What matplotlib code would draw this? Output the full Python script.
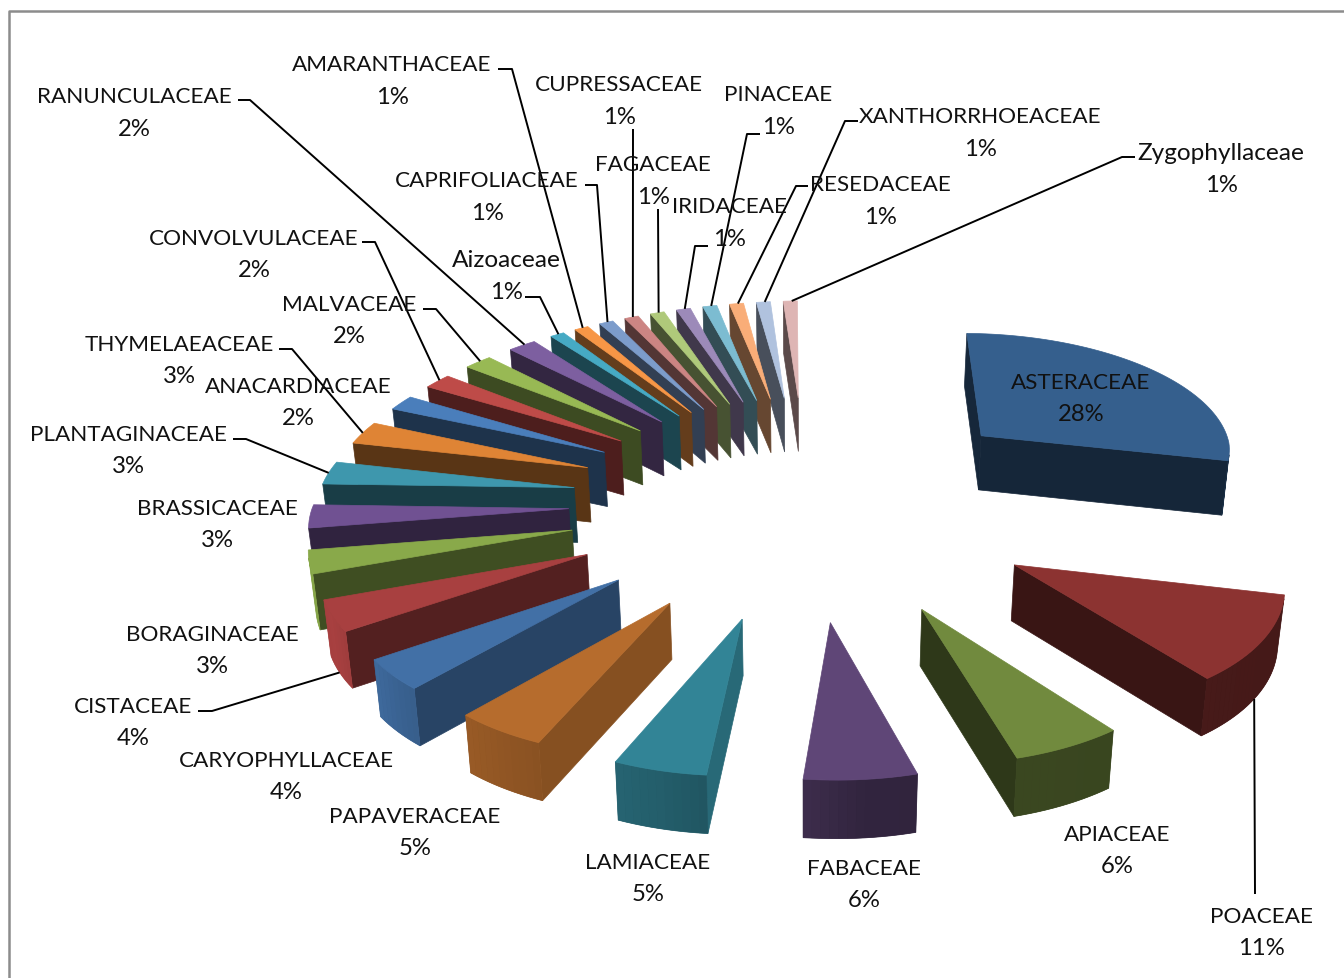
import numpy as np
import matplotlib
matplotlib.use('Agg')
from matplotlib import pyplot as plt

# plant families and their share of the species list, clockwise from 12 o'clock
families = ['ASTERACEAE', 'POACEAE', 'APIACEAE', 'FABACEAE', 'LAMIACEAE', 'PAPAVERACEAE',
            'CARYOPHYLLACEAE', 'CISTACEAE', 'BORAGINACEAE', 'BRASSICACEAE', 'PLANTAGINACEAE',
            'THYMELAEACEAE', 'ANACARDIACEAE', 'CONVOLVULACEAE', 'MALVACEAE', 'RANUNCULACEAE',
            'Aizoaceae', 'AMARANTHACEAE', 'CAPRIFOLIACEAE', 'CUPRESSACEAE', 'FAGACEAE',
            'IRIDACEAE', 'PINACEAE', 'RESEDACEAE', 'XANTHORRHOEACEAE', 'Zygophyllaceae']
percent = [28, 11, 6, 6, 5, 5, 4, 4, 3, 3, 3, 3, 2, 2, 2, 2, 1, 1, 1, 1, 1, 1, 1, 1, 1, 1]

colors = ['#355F8D', '#8C3331', '#718A3E', '#5F4677', '#328496', '#B66C2D',
          '#4270A6', '#A84040', '#89A94A', '#705192', '#3E97AD', '#DF8435',
          '#4A7EBB', '#BE4B48', '#98B954', '#7D5FA0', '#46AAC4', '#F79646',
          '#7C9CCB', '#CC8583', '#AFC97A', '#9C8AB9', '#7CBCD1', '#F9AD78',
          '#B0C2DE', '#DEB5B4']

# label centres (x, y of the name line)
label_pos = [(1081, 381), (1261, 915), (1117, 833), (864, 867), (648, 861), (415, 815),
             (286, 759), (133, 705), (212, 633), (217, 507), (128, 433),
             (179, 343), (298, 385), (254, 237), (349, 303), (134, 95),
             (506, 259), (392, 63), (487, 179), (619, 83), (653, 163),
             (729, 205), (778, 93), (880, 183), (980, 115), (1221, 151)]

# leader lines: start points and elbow per family index, ends come from the slice
leaders = {
    1: [(1255, 895)],
    7: [(198, 712), (212, 712)],
    10: [(233, 440), (246, 440)],
    11: [(279, 350), (292, 350)],
    13: [(362, 243), (375, 243)],
    14: [(423, 310), (436, 310)],
    15: [(238, 101), (250, 101)],
    16: [(525, 298), (540, 298)],
    17: [(498, 70), (512, 70)],
    18: [(585, 186), (597, 186)],
    19: [(633, 130)],
    20: [(658, 210)],
    21: [(708, 247), (695, 247)],
    22: [(760, 135), (747, 135)],
    23: [(808, 187), (796, 187)],
    24: [(858, 122), (845, 122)],
    25: [(1135, 158), (1122, 158)],
}
# these leaders land on the bottom edge of the rim
leader_on_rim = [1, 7]

# projection settings for the tilted pie
CX, CY = 806, 500.6
AX, AY = 255, 121.6
SKEW = 5
PERSP = 0.085
EXPLODE = 0.92
DEPTH = 55
START = 1.0


def project(u, v):
    s = 1 / (1 - PERSP * v)
    left = max(0, -u)
    dx = -2.5 * left * np.clip(1 - v / 1.5, 0, 1) + 2.5 * max(0, u) * np.clip(-2 * v, 0, 1)
    return CX + AX * s * u + SKEW * v + dx, CY + AY * s * v + 2 + 4 * left, s


def top_point(u, v):
    x, y, _ = project(u, v)
    return x, y


def low_point(u, v):
    x, y, s = project(u, v)
    return CX + (x - CX) * 0.985, y + DEPTH * s ** 0.35


def shaded(color, k):
    return np.clip(np.array(matplotlib.colors.to_rgb(color)) * k, 0, 1)


def rim_shade(n):
    return np.interp(n, [90, 175, 188, 197, 225, 245, 270], [0.48, 0.52, 0.66, 0.72, 0.85, 1.0, 0.95])


def side_shade(n):
    return np.interp(n, [0, 95, 113, 131, 146, 186, 360], [0.8, 0.8, 0.75, 0.62, 0.5, 0.4, 0.42])


def wall(p, q):
    return [top_point(*p), top_point(*q), low_point(*q), low_point(*p)]


def faces_viewer(poly):
    # screen y runs downward, so a visible wall winds with negative area
    xs, ys = np.array(poly).T
    return np.sum(xs * np.roll(ys, -1) - np.roll(xs, -1) * ys) < 0


fig = plt.figure(figsize=(13.44, 9.79), dpi=100)
ax = fig.add_axes([0, 0, 1, 1])
ax.set_xlim(0, 1344)
ax.set_ylim(979, 0)
ax.axis('off')

# chart border, only the top and left edges fall inside the canvas
ax.plot([9, 9, 1344], [979, 12, 12], color='#8C8C8C', lw=1.8, solid_capstyle='butt')

edges = np.cumsum([0] + percent) / sum(percent) * 360 + START
slices = []
for i, c in enumerate(colors):
    a0, a1 = edges[i], edges[i + 1]
    mid = np.radians((a0 + a1) / 2)
    tip = (EXPLODE * np.sin(mid), -EXPLODE * np.cos(mid))
    slices.append((tip[1], i, a0, a1, tip))

anchors = {}
for _, i, a0, a1, tip in sorted(slices, key=lambda t: t[0]):
    c = colors[i]
    arc = np.radians(np.linspace(a0, a1, max(6, int((a1 - a0) / 1.5))))
    rim = [(tip[0] + np.sin(t), tip[1] - np.cos(t)) for t in arc]

    # radial walls, only the side turned to the viewer is drawn
    for p, q, n in [(tip, rim[0], (a0 - 90) % 360), (rim[-1], tip, (a1 + 90) % 360)]:
        poly = wall(p, q)
        if faces_viewer(poly):
            ax.fill(*zip(*poly), color=shaded(c, side_shade(n)), lw=0.5, zorder=2)

    # outer wall: a flat base under the facets hides the seams between them
    seen = [k for k in range(len(rim) - 1) if faces_viewer(wall(rim[k], rim[k + 1]))]
    if seen:
        part = rim[seen[0]:seen[-1] + 2]
        base = [top_point(*p) for p in part] + [low_point(*p) for p in part[::-1]]
        n_mid = np.degrees(arc[seen[len(seen) // 2]])
        ax.fill(*zip(*base), color=shaded(c, rim_shade(n_mid)), lw=0.5, zorder=2)
        for k in seen:
            n = np.degrees((arc[k] + arc[k + 1]) / 2)
            ax.fill(*zip(*wall(rim[k], rim[k + 1])), color=shaded(c, rim_shade(n)), lw=0, zorder=2)

    outline = [top_point(*tip)] + [top_point(*p) for p in rim]
    ax.fill(*zip(*outline), color=c, lw=0.5, zorder=2)

    middle = rim[len(rim) // 2]
    anchors[i] = low_point(*middle) if i in leader_on_rim else top_point(*middle)

for i, pts in leaders.items():
    xs, ys = zip(*(pts + [anchors[i]]))
    ax.plot(xs, ys, color='black', lw=1.4, zorder=3, solid_capstyle='butt')

for name, pct, (x, y) in zip(families, percent, label_pos):
    # mixed-case names run narrower in this face than the capitals
    size = 16.2 if name.isupper() else 17.6
    ax.text(x, y + 2, name, ha='center', va='center', fontsize=size, family='Lato', color='#111111', zorder=4)
    ax.text(x, y + 34, f'{pct}%', ha='center', va='center', fontsize=17.2, family='Lato', color='#111111', zorder=4)

fig.savefig('out.png', dpi=100)
